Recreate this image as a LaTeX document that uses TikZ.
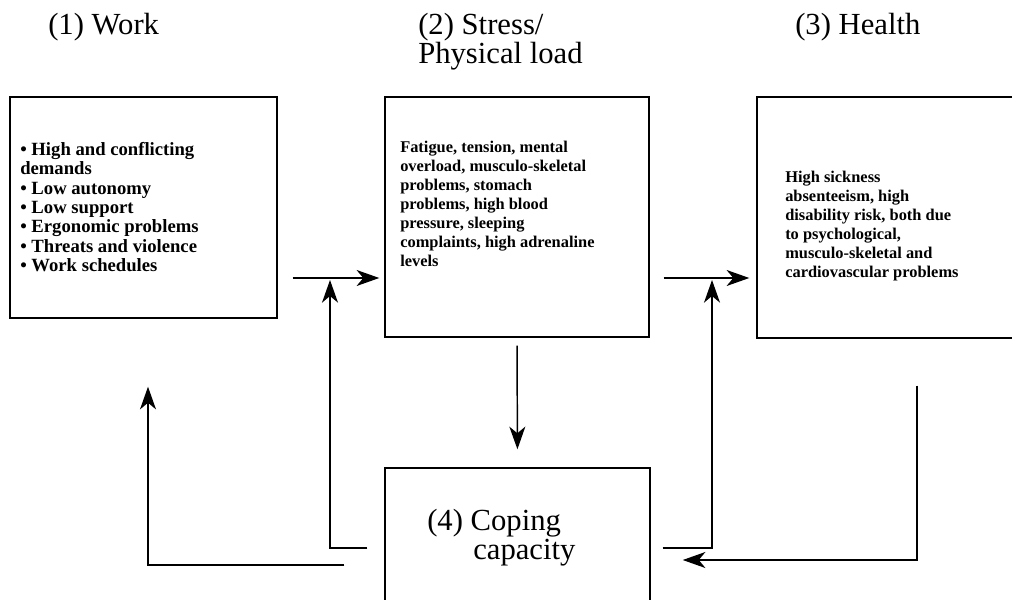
\documentclass[tikz,border=0pt]{standalone}
\usepackage{fontspec}
\setmainfont{Liberation Serif}
\usepackage{tikz}
\usetikzlibrary{arrows.meta, positioning}
\definecolor{myink}{RGB}{0,0,0}
\tikzset{
  box/.style={rectangle, draw=myink, line width=1.1pt, inner sep=0pt},
  worktext/.style={align=left, inner sep=0pt, text=myink,
    font=\bfseries\fontsize{14}{14.5}\selectfont},
  boxtext/.style={align=left, inner sep=0pt, text=myink,
    font=\bfseries\fontsize{12.3}{14.2}\selectfont},
  title/.style={inner sep=0pt, text=myink,
    font=\fontsize{23}{20}\selectfont},
  arrow/.style={-{Stealth[length=17pt, width=12pt, inset=5pt]},
    line width=1.1pt, draw=myink},
}

\begin{document}
\begin{tikzpicture}[x=0.75pt, y=-0.75pt]
  \useasboundingbox (0,0) rectangle (1012,599);

  % the four boxes
  \node[box, minimum width=200.25pt, minimum height=165.75pt] (work) at (143.5,207.5) {};
  \node[box, minimum width=198pt, minimum height=180pt] (stress) at (517,217) {};
  \node[box, minimum width=198.75pt, minimum height=180.75pt] (health) at (889.5,217.5) {};
  \node[box, minimum width=198.75pt, minimum height=108pt] (cope) at (517.5,540) {};

  % headings
  \node[title, anchor=base west] (t1) at (48,35) {(1) Work};
  \node[title, anchor=base west] (t2) at (418,35) {(2) Stress/};
  \node[title, anchor=base west] (t2b) at (418,64) {Physical load};
  \node[title, anchor=base west] (t3) at (795,35) {(3) Health};

  % box contents
  \node[worktext, anchor=north west] (l1) at (20,142)
    {\textbullet{} High and conflicting\\demands\\\textbullet{} Low autonomy\\
     \textbullet{} Low support\\\textbullet{} Ergonomic problems\\
     \textbullet{} Threats and violence\\\textbullet{} Work schedules};
  \node[boxtext, anchor=north west] (l2) at (400,141)
    {Fatigue, tension, mental\\overload, musculo-skeletal\\problems, stomach\\
     problems, high blood\\pressure, sleeping\\complaints, high adrenaline\\levels};
  \node[boxtext, anchor=north west] (l3) at (785,171)
    {High sickness\\absenteeism, high\\disability risk, both due\\
     to psychological,\\musculo-skeletal and\\cardiovascular problems};
  \node[title, anchor=base west] (c1) at (427,530) {(4) Coping};
  \node[title, anchor=base west] (c2) at (473,559) {capacity};

  % connectors
  \coordinate (lvl) at (0,278);
  \coordinate (mid) at (0,548);
  \coordinate (j1) at (330,278);
  \coordinate (j2) at (712,278);
  \coordinate (lp) at (148,565);
  \coordinate (rp) at (917,560);

  \draw[arrow, shorten <=11.25pt, shorten >=3.75pt] (work.east |- lvl) -- (stress.west |- lvl);
  \draw[arrow, shorten <=10.5pt, shorten >=5.25pt] (stress.east |- lvl) -- (health.west |- lvl);
  \draw[arrow, shorten <=6pt, shorten >=13.5pt] (stress.south) -- (cope.north);
  \draw[arrow, shorten <=12.75pt, shorten >=1.5pt] (cope.west |- mid) -| (j1);
  \draw[arrow, shorten <=9pt, shorten >=1.5pt] (cope.east |- mid) -| (j2);
  \draw[arrow, shorten <=30pt, shorten >=51pt] (cope.west |- lp) -| (work.south -| lp);
  \draw[arrow, shorten <=35.25pt, shorten >=24pt] (health.south -| rp) |- (cope.east |- rp);
\end{tikzpicture}
\end{document}
